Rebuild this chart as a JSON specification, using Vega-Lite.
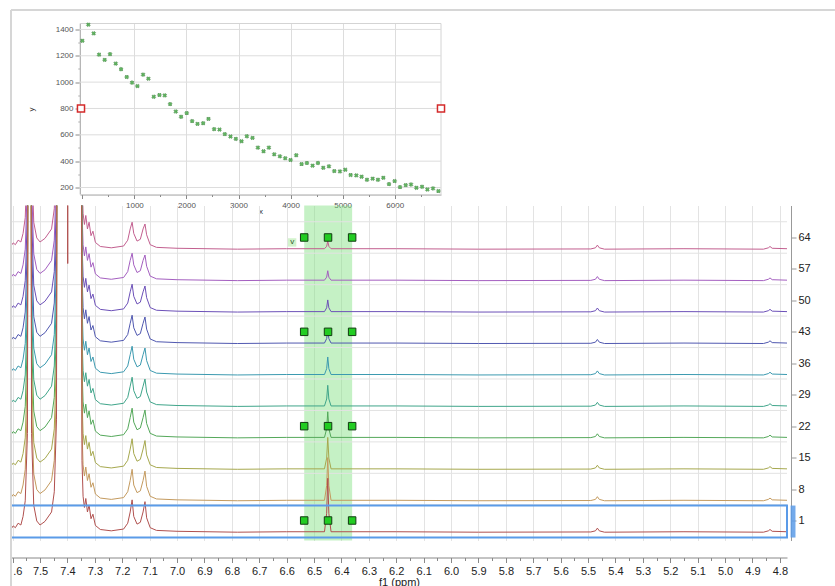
{
"$schema": "https://vega.github.io/schema/vega-lite/v6.json",
"padding": {"left": 10, "top": 8.5, "right": 0, "bottom": 0},
"bounds": "flush",
"spacing": 11,
"config": {"font": "Liberation Sans", "view": {"stroke": null}},
"datasets": {
"spec": [
{"t":64,"p":7.606,"y":62.1},{"t":64,"p":7.598,"y":62.8},{"t":64,"p":7.590,"y":62.4},{"t":64,"p":7.580,"y":63.4},{"t":64,"p":7.570,"y":63.0},{"t":64,"p":7.562,"y":64.9},{"t":64,"p":7.554,"y":68.4},{"t":64,"p":7.546,"y":83.4},{"t":64,"p":7.538,"y":300},{"t":64,"p":7.531,"y":83.4},{"t":64,"p":7.523,"y":67.4},{"t":64,"p":7.512,"y":63.9},{"t":64,"p":7.500,"y":63.0},{"t":64,"p":7.482,"y":63.8},{"t":64,"p":7.458,"y":65.9},{"t":64,"p":7.448,"y":70.4},{"t":64,"p":7.440,"y":86.4},{"t":64,"p":7.432,"y":300},{"t":64,"p":7.352,"y":300},{"t":64,"p":7.347,"y":77.4},{"t":64,"p":7.343,"y":69.4},{"t":64,"p":7.338,"y":66.9},{"t":64,"p":7.333,"y":68.9},{"t":64,"p":7.327,"y":65.9},{"t":64,"p":7.321,"y":67.4},{"t":64,"p":7.314,"y":64.4},{"t":64,"p":7.307,"y":65.4},{"t":64,"p":7.298,"y":62.9},{"t":64,"p":7.280,"y":62.0},{"t":64,"p":7.240,"y":61.7},{"t":64,"p":7.195,"y":62.1},{"t":64,"p":7.180,"y":63.4},{"t":64,"p":7.171,"y":65.9},{"t":64,"p":7.164,"y":67.4},{"t":64,"p":7.158,"y":64.9},{"t":64,"p":7.146,"y":63.2},{"t":64,"p":7.134,"y":63.6},{"t":64,"p":7.124,"y":65.9},{"t":64,"p":7.117,"y":67.0},{"t":64,"p":7.111,"y":64.6},{"t":64,"p":7.098,"y":62.4},{"t":64,"p":7.075,"y":61.8},{"t":64,"p":7.000,"y":61.6},{"t":64,"p":6.780,"y":61.4},{"t":64,"p":6.600,"y":61.5},{"t":64,"p":6.462,"y":61.5},{"t":64,"p":6.454,"y":62.03},{"t":64,"p":6.450,"y":63.2},{"t":64,"p":6.446,"y":62.03},{"t":64,"p":6.438,"y":61.5},{"t":64,"p":6.200,"y":61.5},{"t":64,"p":5.900,"y":61.4},{"t":64,"p":5.490,"y":61.45},{"t":64,"p":5.473,"y":61.7},{"t":64,"p":5.466,"y":62.3},{"t":64,"p":5.459,"y":61.7},{"t":64,"p":5.440,"y":61.4},{"t":64,"p":5.150,"y":61.5},{"t":64,"p":4.860,"y":61.4},{"t":64,"p":4.842,"y":61.7},{"t":64,"p":4.836,"y":62.0},{"t":64,"p":4.828,"y":61.6},{"t":64,"p":4.774,"y":61.5},
{"t":57,"p":7.606,"y":55.1},{"t":57,"p":7.598,"y":55.8},{"t":57,"p":7.590,"y":55.4},{"t":57,"p":7.580,"y":56.4},{"t":57,"p":7.570,"y":56.0},{"t":57,"p":7.562,"y":57.9},{"t":57,"p":7.554,"y":61.4},{"t":57,"p":7.546,"y":76.4},{"t":57,"p":7.538,"y":300},{"t":57,"p":7.531,"y":76.4},{"t":57,"p":7.523,"y":60.4},{"t":57,"p":7.512,"y":56.9},{"t":57,"p":7.500,"y":56.0},{"t":57,"p":7.482,"y":56.8},{"t":57,"p":7.458,"y":58.9},{"t":57,"p":7.448,"y":63.4},{"t":57,"p":7.440,"y":79.4},{"t":57,"p":7.432,"y":300},{"t":57,"p":7.352,"y":300},{"t":57,"p":7.347,"y":70.4},{"t":57,"p":7.343,"y":62.4},{"t":57,"p":7.338,"y":59.9},{"t":57,"p":7.333,"y":61.9},{"t":57,"p":7.327,"y":58.9},{"t":57,"p":7.321,"y":60.4},{"t":57,"p":7.314,"y":57.4},{"t":57,"p":7.307,"y":58.4},{"t":57,"p":7.298,"y":55.9},{"t":57,"p":7.280,"y":55.0},{"t":57,"p":7.240,"y":54.7},{"t":57,"p":7.195,"y":55.1},{"t":57,"p":7.180,"y":56.4},{"t":57,"p":7.171,"y":58.9},{"t":57,"p":7.164,"y":60.5},{"t":57,"p":7.158,"y":57.9},{"t":57,"p":7.146,"y":56.2},{"t":57,"p":7.134,"y":56.6},{"t":57,"p":7.124,"y":58.9},{"t":57,"p":7.117,"y":60.1},{"t":57,"p":7.111,"y":57.6},{"t":57,"p":7.098,"y":55.4},{"t":57,"p":7.075,"y":54.8},{"t":57,"p":7.000,"y":54.6},{"t":57,"p":6.780,"y":54.4},{"t":57,"p":6.600,"y":54.5},{"t":57,"p":6.462,"y":54.5},{"t":57,"p":6.454,"y":55.17},{"t":57,"p":6.450,"y":56.6},{"t":57,"p":6.446,"y":55.17},{"t":57,"p":6.438,"y":54.5},{"t":57,"p":6.200,"y":54.5},{"t":57,"p":5.900,"y":54.4},{"t":57,"p":5.490,"y":54.45},{"t":57,"p":5.473,"y":54.7},{"t":57,"p":5.466,"y":55.3},{"t":57,"p":5.459,"y":54.7},{"t":57,"p":5.440,"y":54.4},{"t":57,"p":5.150,"y":54.5},{"t":57,"p":4.860,"y":54.4},{"t":57,"p":4.842,"y":54.7},{"t":57,"p":4.836,"y":55.0},{"t":57,"p":4.828,"y":54.6},{"t":57,"p":4.774,"y":54.5},
{"t":50,"p":7.606,"y":48.1},{"t":50,"p":7.598,"y":48.8},{"t":50,"p":7.590,"y":48.4},{"t":50,"p":7.580,"y":49.4},{"t":50,"p":7.570,"y":49.0},{"t":50,"p":7.562,"y":50.9},{"t":50,"p":7.554,"y":54.4},{"t":50,"p":7.546,"y":69.4},{"t":50,"p":7.538,"y":300},{"t":50,"p":7.531,"y":69.4},{"t":50,"p":7.523,"y":53.4},{"t":50,"p":7.512,"y":49.9},{"t":50,"p":7.500,"y":49.0},{"t":50,"p":7.482,"y":49.8},{"t":50,"p":7.458,"y":51.9},{"t":50,"p":7.448,"y":56.4},{"t":50,"p":7.440,"y":72.4},{"t":50,"p":7.432,"y":300},{"t":50,"p":7.352,"y":300},{"t":50,"p":7.347,"y":63.4},{"t":50,"p":7.343,"y":55.4},{"t":50,"p":7.338,"y":52.9},{"t":50,"p":7.333,"y":54.9},{"t":50,"p":7.327,"y":51.9},{"t":50,"p":7.321,"y":53.4},{"t":50,"p":7.314,"y":50.4},{"t":50,"p":7.307,"y":51.4},{"t":50,"p":7.298,"y":48.9},{"t":50,"p":7.280,"y":48.0},{"t":50,"p":7.240,"y":47.7},{"t":50,"p":7.195,"y":48.1},{"t":50,"p":7.180,"y":49.4},{"t":50,"p":7.171,"y":51.9},{"t":50,"p":7.164,"y":53.6},{"t":50,"p":7.158,"y":50.9},{"t":50,"p":7.146,"y":49.2},{"t":50,"p":7.134,"y":49.6},{"t":50,"p":7.124,"y":51.9},{"t":50,"p":7.117,"y":53.2},{"t":50,"p":7.111,"y":50.6},{"t":50,"p":7.098,"y":48.4},{"t":50,"p":7.075,"y":47.8},{"t":50,"p":7.000,"y":47.6},{"t":50,"p":6.780,"y":47.4},{"t":50,"p":6.600,"y":47.5},{"t":50,"p":6.462,"y":47.5},{"t":50,"p":6.454,"y":48.35},{"t":50,"p":6.450,"y":50.1},{"t":50,"p":6.446,"y":48.35},{"t":50,"p":6.438,"y":47.5},{"t":50,"p":6.200,"y":47.5},{"t":50,"p":5.900,"y":47.4},{"t":50,"p":5.490,"y":47.45},{"t":50,"p":5.473,"y":47.7},{"t":50,"p":5.466,"y":48.3},{"t":50,"p":5.459,"y":47.7},{"t":50,"p":5.440,"y":47.4},{"t":50,"p":5.150,"y":47.5},{"t":50,"p":4.860,"y":47.4},{"t":50,"p":4.842,"y":47.7},{"t":50,"p":4.836,"y":48.0},{"t":50,"p":4.828,"y":47.6},{"t":50,"p":4.774,"y":47.5},
{"t":43,"p":7.606,"y":41.1},{"t":43,"p":7.598,"y":41.8},{"t":43,"p":7.590,"y":41.4},{"t":43,"p":7.580,"y":42.4},{"t":43,"p":7.570,"y":42.0},{"t":43,"p":7.562,"y":43.9},{"t":43,"p":7.554,"y":47.4},{"t":43,"p":7.546,"y":62.4},{"t":43,"p":7.538,"y":300},{"t":43,"p":7.531,"y":62.4},{"t":43,"p":7.523,"y":46.4},{"t":43,"p":7.512,"y":42.9},{"t":43,"p":7.500,"y":42.0},{"t":43,"p":7.482,"y":42.8},{"t":43,"p":7.458,"y":44.9},{"t":43,"p":7.448,"y":49.4},{"t":43,"p":7.440,"y":65.4},{"t":43,"p":7.432,"y":300},{"t":43,"p":7.352,"y":300},{"t":43,"p":7.347,"y":56.4},{"t":43,"p":7.343,"y":48.4},{"t":43,"p":7.338,"y":45.9},{"t":43,"p":7.333,"y":47.9},{"t":43,"p":7.327,"y":44.9},{"t":43,"p":7.321,"y":46.4},{"t":43,"p":7.314,"y":43.4},{"t":43,"p":7.307,"y":44.4},{"t":43,"p":7.298,"y":41.9},{"t":43,"p":7.280,"y":41.0},{"t":43,"p":7.240,"y":40.7},{"t":43,"p":7.195,"y":41.1},{"t":43,"p":7.180,"y":42.4},{"t":43,"p":7.171,"y":44.9},{"t":43,"p":7.164,"y":46.7},{"t":43,"p":7.158,"y":43.9},{"t":43,"p":7.146,"y":42.2},{"t":43,"p":7.134,"y":42.6},{"t":43,"p":7.124,"y":44.9},{"t":43,"p":7.117,"y":46.3},{"t":43,"p":7.111,"y":43.6},{"t":43,"p":7.098,"y":41.4},{"t":43,"p":7.075,"y":40.8},{"t":43,"p":7.000,"y":40.6},{"t":43,"p":6.780,"y":40.4},{"t":43,"p":6.600,"y":40.5},{"t":43,"p":6.462,"y":40.5},{"t":43,"p":6.454,"y":41.49},{"t":43,"p":6.450,"y":43.5},{"t":43,"p":6.446,"y":41.49},{"t":43,"p":6.438,"y":40.5},{"t":43,"p":6.200,"y":40.5},{"t":43,"p":5.900,"y":40.4},{"t":43,"p":5.490,"y":40.45},{"t":43,"p":5.473,"y":40.7},{"t":43,"p":5.466,"y":41.3},{"t":43,"p":5.459,"y":40.7},{"t":43,"p":5.440,"y":40.4},{"t":43,"p":5.150,"y":40.5},{"t":43,"p":4.860,"y":40.4},{"t":43,"p":4.842,"y":40.7},{"t":43,"p":4.836,"y":41.0},{"t":43,"p":4.828,"y":40.6},{"t":43,"p":4.774,"y":40.5},
{"t":36,"p":7.606,"y":34.1},{"t":36,"p":7.598,"y":34.8},{"t":36,"p":7.590,"y":34.4},{"t":36,"p":7.580,"y":35.4},{"t":36,"p":7.570,"y":35.0},{"t":36,"p":7.562,"y":36.9},{"t":36,"p":7.554,"y":40.4},{"t":36,"p":7.546,"y":55.4},{"t":36,"p":7.538,"y":300},{"t":36,"p":7.531,"y":55.4},{"t":36,"p":7.523,"y":39.4},{"t":36,"p":7.512,"y":35.9},{"t":36,"p":7.500,"y":35.0},{"t":36,"p":7.482,"y":35.8},{"t":36,"p":7.458,"y":37.9},{"t":36,"p":7.448,"y":42.4},{"t":36,"p":7.440,"y":58.4},{"t":36,"p":7.432,"y":300},{"t":36,"p":7.352,"y":300},{"t":36,"p":7.347,"y":49.4},{"t":36,"p":7.343,"y":41.4},{"t":36,"p":7.338,"y":38.9},{"t":36,"p":7.333,"y":40.9},{"t":36,"p":7.327,"y":37.9},{"t":36,"p":7.321,"y":39.4},{"t":36,"p":7.314,"y":36.4},{"t":36,"p":7.307,"y":37.4},{"t":36,"p":7.298,"y":34.9},{"t":36,"p":7.280,"y":34.0},{"t":36,"p":7.240,"y":33.7},{"t":36,"p":7.195,"y":34.1},{"t":36,"p":7.180,"y":35.4},{"t":36,"p":7.171,"y":37.9},{"t":36,"p":7.164,"y":39.8},{"t":36,"p":7.158,"y":36.9},{"t":36,"p":7.146,"y":35.2},{"t":36,"p":7.134,"y":35.6},{"t":36,"p":7.124,"y":37.9},{"t":36,"p":7.117,"y":39.4},{"t":36,"p":7.111,"y":36.6},{"t":36,"p":7.098,"y":34.4},{"t":36,"p":7.075,"y":33.8},{"t":36,"p":7.000,"y":33.6},{"t":36,"p":6.780,"y":33.4},{"t":36,"p":6.600,"y":33.5},{"t":36,"p":6.462,"y":33.5},{"t":36,"p":6.454,"y":34.8},{"t":36,"p":6.450,"y":37.4},{"t":36,"p":6.446,"y":34.8},{"t":36,"p":6.438,"y":33.5},{"t":36,"p":6.200,"y":33.5},{"t":36,"p":5.900,"y":33.4},{"t":36,"p":5.490,"y":33.45},{"t":36,"p":5.473,"y":33.7},{"t":36,"p":5.466,"y":34.3},{"t":36,"p":5.459,"y":33.7},{"t":36,"p":5.440,"y":33.4},{"t":36,"p":5.150,"y":33.5},{"t":36,"p":4.860,"y":33.4},{"t":36,"p":4.842,"y":33.7},{"t":36,"p":4.836,"y":34.0},{"t":36,"p":4.828,"y":33.6},{"t":36,"p":4.774,"y":33.5},
{"t":29,"p":7.606,"y":27.1},{"t":29,"p":7.598,"y":27.8},{"t":29,"p":7.590,"y":27.4},{"t":29,"p":7.580,"y":28.4},{"t":29,"p":7.570,"y":28.0},{"t":29,"p":7.562,"y":29.9},{"t":29,"p":7.554,"y":33.4},{"t":29,"p":7.546,"y":48.4},{"t":29,"p":7.538,"y":300},{"t":29,"p":7.531,"y":48.4},{"t":29,"p":7.523,"y":32.4},{"t":29,"p":7.512,"y":28.9},{"t":29,"p":7.500,"y":28.0},{"t":29,"p":7.482,"y":28.8},{"t":29,"p":7.458,"y":30.9},{"t":29,"p":7.448,"y":35.4},{"t":29,"p":7.440,"y":51.4},{"t":29,"p":7.432,"y":300},{"t":29,"p":7.352,"y":300},{"t":29,"p":7.347,"y":42.4},{"t":29,"p":7.343,"y":34.4},{"t":29,"p":7.338,"y":31.9},{"t":29,"p":7.333,"y":33.9},{"t":29,"p":7.327,"y":30.9},{"t":29,"p":7.321,"y":32.4},{"t":29,"p":7.314,"y":29.4},{"t":29,"p":7.307,"y":30.4},{"t":29,"p":7.298,"y":27.9},{"t":29,"p":7.280,"y":27.0},{"t":29,"p":7.240,"y":26.7},{"t":29,"p":7.195,"y":27.1},{"t":29,"p":7.180,"y":28.4},{"t":29,"p":7.171,"y":30.9},{"t":29,"p":7.164,"y":32.9},{"t":29,"p":7.158,"y":29.9},{"t":29,"p":7.146,"y":28.2},{"t":29,"p":7.134,"y":28.6},{"t":29,"p":7.124,"y":30.9},{"t":29,"p":7.117,"y":32.5},{"t":29,"p":7.111,"y":29.6},{"t":29,"p":7.098,"y":27.4},{"t":29,"p":7.075,"y":26.8},{"t":29,"p":7.000,"y":26.6},{"t":29,"p":6.780,"y":26.4},{"t":29,"p":6.600,"y":26.5},{"t":29,"p":6.462,"y":26.5},{"t":29,"p":6.454,"y":28.05},{"t":29,"p":6.450,"y":31.1},{"t":29,"p":6.446,"y":28.05},{"t":29,"p":6.438,"y":26.5},{"t":29,"p":6.200,"y":26.5},{"t":29,"p":5.900,"y":26.4},{"t":29,"p":5.490,"y":26.45},{"t":29,"p":5.473,"y":26.7},{"t":29,"p":5.466,"y":27.3},{"t":29,"p":5.459,"y":26.7},{"t":29,"p":5.440,"y":26.4},{"t":29,"p":5.150,"y":26.5},{"t":29,"p":4.860,"y":26.4},{"t":29,"p":4.842,"y":26.7},{"t":29,"p":4.836,"y":27.0},{"t":29,"p":4.828,"y":26.6},{"t":29,"p":4.774,"y":26.5},
{"t":22,"p":7.606,"y":20.1},{"t":22,"p":7.598,"y":20.8},{"t":22,"p":7.590,"y":20.4},{"t":22,"p":7.580,"y":21.4},{"t":22,"p":7.570,"y":21.0},{"t":22,"p":7.562,"y":22.9},{"t":22,"p":7.554,"y":26.4},{"t":22,"p":7.546,"y":41.4},{"t":22,"p":7.538,"y":300},{"t":22,"p":7.531,"y":41.4},{"t":22,"p":7.523,"y":25.4},{"t":22,"p":7.512,"y":21.9},{"t":22,"p":7.500,"y":21.0},{"t":22,"p":7.482,"y":21.8},{"t":22,"p":7.458,"y":23.9},{"t":22,"p":7.448,"y":28.4},{"t":22,"p":7.440,"y":44.4},{"t":22,"p":7.432,"y":300},{"t":22,"p":7.352,"y":300},{"t":22,"p":7.347,"y":35.4},{"t":22,"p":7.343,"y":27.4},{"t":22,"p":7.338,"y":24.9},{"t":22,"p":7.333,"y":26.9},{"t":22,"p":7.327,"y":23.9},{"t":22,"p":7.321,"y":25.4},{"t":22,"p":7.314,"y":22.4},{"t":22,"p":7.307,"y":23.4},{"t":22,"p":7.298,"y":20.9},{"t":22,"p":7.280,"y":20.0},{"t":22,"p":7.240,"y":19.7},{"t":22,"p":7.195,"y":20.1},{"t":22,"p":7.180,"y":21.4},{"t":22,"p":7.171,"y":23.9},{"t":22,"p":7.164,"y":26.0},{"t":22,"p":7.158,"y":22.9},{"t":22,"p":7.146,"y":21.2},{"t":22,"p":7.134,"y":21.6},{"t":22,"p":7.124,"y":23.9},{"t":22,"p":7.117,"y":25.6},{"t":22,"p":7.111,"y":22.6},{"t":22,"p":7.098,"y":20.4},{"t":22,"p":7.075,"y":19.8},{"t":22,"p":7.000,"y":19.6},{"t":22,"p":6.780,"y":19.4},{"t":22,"p":6.600,"y":19.5},{"t":22,"p":6.462,"y":19.5},{"t":22,"p":6.454,"y":21.43},{"t":22,"p":6.450,"y":25.2},{"t":22,"p":6.446,"y":21.43},{"t":22,"p":6.438,"y":19.5},{"t":22,"p":6.200,"y":19.5},{"t":22,"p":5.900,"y":19.4},{"t":22,"p":5.490,"y":19.45},{"t":22,"p":5.473,"y":19.7},{"t":22,"p":5.466,"y":20.3},{"t":22,"p":5.459,"y":19.7},{"t":22,"p":5.440,"y":19.4},{"t":22,"p":5.150,"y":19.5},{"t":22,"p":4.860,"y":19.4},{"t":22,"p":4.842,"y":19.7},{"t":22,"p":4.836,"y":20.0},{"t":22,"p":4.828,"y":19.6},{"t":22,"p":4.774,"y":19.5},
{"t":15,"p":7.606,"y":13.1},{"t":15,"p":7.598,"y":13.8},{"t":15,"p":7.590,"y":13.4},{"t":15,"p":7.580,"y":14.4},{"t":15,"p":7.570,"y":14.0},{"t":15,"p":7.562,"y":15.9},{"t":15,"p":7.554,"y":19.4},{"t":15,"p":7.546,"y":34.4},{"t":15,"p":7.538,"y":300},{"t":15,"p":7.531,"y":34.4},{"t":15,"p":7.523,"y":18.4},{"t":15,"p":7.512,"y":14.9},{"t":15,"p":7.500,"y":14.0},{"t":15,"p":7.482,"y":14.8},{"t":15,"p":7.458,"y":16.9},{"t":15,"p":7.448,"y":21.4},{"t":15,"p":7.440,"y":37.4},{"t":15,"p":7.432,"y":300},{"t":15,"p":7.352,"y":300},{"t":15,"p":7.347,"y":28.4},{"t":15,"p":7.343,"y":20.4},{"t":15,"p":7.338,"y":17.9},{"t":15,"p":7.333,"y":19.9},{"t":15,"p":7.327,"y":16.9},{"t":15,"p":7.321,"y":18.4},{"t":15,"p":7.314,"y":15.4},{"t":15,"p":7.307,"y":16.4},{"t":15,"p":7.298,"y":13.9},{"t":15,"p":7.280,"y":13.0},{"t":15,"p":7.240,"y":12.7},{"t":15,"p":7.195,"y":13.1},{"t":15,"p":7.180,"y":14.4},{"t":15,"p":7.171,"y":16.9},{"t":15,"p":7.164,"y":19.2},{"t":15,"p":7.158,"y":15.9},{"t":15,"p":7.146,"y":14.2},{"t":15,"p":7.134,"y":14.6},{"t":15,"p":7.124,"y":16.9},{"t":15,"p":7.117,"y":18.8},{"t":15,"p":7.111,"y":15.6},{"t":15,"p":7.098,"y":13.4},{"t":15,"p":7.075,"y":12.8},{"t":15,"p":7.000,"y":12.6},{"t":15,"p":6.780,"y":12.4},{"t":15,"p":6.600,"y":12.5},{"t":15,"p":6.462,"y":12.5},{"t":15,"p":6.454,"y":14.89},{"t":15,"p":6.450,"y":19.5},{"t":15,"p":6.446,"y":14.89},{"t":15,"p":6.438,"y":12.5},{"t":15,"p":6.200,"y":12.5},{"t":15,"p":5.900,"y":12.4},{"t":15,"p":5.490,"y":12.45},{"t":15,"p":5.473,"y":12.7},{"t":15,"p":5.466,"y":13.3},{"t":15,"p":5.459,"y":12.7},{"t":15,"p":5.440,"y":12.4},{"t":15,"p":5.150,"y":12.5},{"t":15,"p":4.860,"y":12.4},{"t":15,"p":4.842,"y":12.7},{"t":15,"p":4.836,"y":13.0},{"t":15,"p":4.828,"y":12.6},{"t":15,"p":4.774,"y":12.5},
{"t":8,"p":7.606,"y":6.1},{"t":8,"p":7.598,"y":6.8},{"t":8,"p":7.590,"y":6.4},{"t":8,"p":7.580,"y":7.4},{"t":8,"p":7.570,"y":7.0},{"t":8,"p":7.562,"y":8.9},{"t":8,"p":7.554,"y":12.4},{"t":8,"p":7.546,"y":27.4},{"t":8,"p":7.538,"y":300},{"t":8,"p":7.531,"y":27.4},{"t":8,"p":7.523,"y":11.4},{"t":8,"p":7.512,"y":7.9},{"t":8,"p":7.500,"y":7.0},{"t":8,"p":7.482,"y":7.8},{"t":8,"p":7.458,"y":9.9},{"t":8,"p":7.448,"y":14.4},{"t":8,"p":7.440,"y":30.4},{"t":8,"p":7.432,"y":300},{"t":8,"p":7.352,"y":300},{"t":8,"p":7.347,"y":21.4},{"t":8,"p":7.343,"y":13.4},{"t":8,"p":7.338,"y":10.9},{"t":8,"p":7.333,"y":12.9},{"t":8,"p":7.327,"y":9.9},{"t":8,"p":7.321,"y":11.4},{"t":8,"p":7.314,"y":8.4},{"t":8,"p":7.307,"y":9.4},{"t":8,"p":7.298,"y":6.9},{"t":8,"p":7.280,"y":6.0},{"t":8,"p":7.240,"y":5.7},{"t":8,"p":7.195,"y":6.1},{"t":8,"p":7.180,"y":7.4},{"t":8,"p":7.171,"y":9.9},{"t":8,"p":7.164,"y":12.4},{"t":8,"p":7.158,"y":8.9},{"t":8,"p":7.146,"y":7.2},{"t":8,"p":7.134,"y":7.6},{"t":8,"p":7.124,"y":9.9},{"t":8,"p":7.117,"y":12.0},{"t":8,"p":7.111,"y":8.6},{"t":8,"p":7.098,"y":6.4},{"t":8,"p":7.075,"y":5.8},{"t":8,"p":7.000,"y":5.6},{"t":8,"p":6.780,"y":5.4},{"t":8,"p":6.600,"y":5.5},{"t":8,"p":6.462,"y":5.5},{"t":8,"p":6.454,"y":8.76},{"t":8,"p":6.450,"y":15.0},{"t":8,"p":6.446,"y":8.76},{"t":8,"p":6.438,"y":5.5},{"t":8,"p":6.200,"y":5.5},{"t":8,"p":5.900,"y":5.4},{"t":8,"p":5.490,"y":5.45},{"t":8,"p":5.473,"y":5.7},{"t":8,"p":5.466,"y":6.3},{"t":8,"p":5.459,"y":5.7},{"t":8,"p":5.440,"y":5.4},{"t":8,"p":5.150,"y":5.5},{"t":8,"p":4.860,"y":5.4},{"t":8,"p":4.842,"y":5.7},{"t":8,"p":4.836,"y":6.0},{"t":8,"p":4.828,"y":5.6},{"t":8,"p":4.774,"y":5.5},
{"t":1,"p":7.606,"y":-0.9},{"t":1,"p":7.598,"y":-0.2},{"t":1,"p":7.590,"y":-0.6},{"t":1,"p":7.580,"y":0.4},{"t":1,"p":7.570,"y":0.0},{"t":1,"p":7.562,"y":1.9},{"t":1,"p":7.554,"y":5.4},{"t":1,"p":7.546,"y":20.4},{"t":1,"p":7.538,"y":300},{"t":1,"p":7.531,"y":20.4},{"t":1,"p":7.523,"y":4.4},{"t":1,"p":7.512,"y":0.9},{"t":1,"p":7.500,"y":0.0},{"t":1,"p":7.482,"y":0.8},{"t":1,"p":7.458,"y":2.9},{"t":1,"p":7.448,"y":7.4},{"t":1,"p":7.440,"y":23.4},{"t":1,"p":7.432,"y":300},{"t":1,"p":7.403,"y":300},{"t":1,"p":7.399,"y":58.2},{"t":1,"p":7.395,"y":300},{"t":1,"p":7.352,"y":300},{"t":1,"p":7.347,"y":14.4},{"t":1,"p":7.343,"y":6.4},{"t":1,"p":7.338,"y":3.9},{"t":1,"p":7.333,"y":5.9},{"t":1,"p":7.327,"y":2.9},{"t":1,"p":7.321,"y":4.4},{"t":1,"p":7.314,"y":1.4},{"t":1,"p":7.307,"y":2.4},{"t":1,"p":7.298,"y":-0.1},{"t":1,"p":7.280,"y":-1.0},{"t":1,"p":7.240,"y":-1.3},{"t":1,"p":7.195,"y":-0.9},{"t":1,"p":7.180,"y":0.4},{"t":1,"p":7.171,"y":2.9},{"t":1,"p":7.164,"y":5.6},{"t":1,"p":7.158,"y":1.9},{"t":1,"p":7.146,"y":0.2},{"t":1,"p":7.134,"y":0.6},{"t":1,"p":7.124,"y":2.9},{"t":1,"p":7.117,"y":5.2},{"t":1,"p":7.111,"y":1.6},{"t":1,"p":7.098,"y":-0.6},{"t":1,"p":7.075,"y":-1.2},{"t":1,"p":7.000,"y":-1.4},{"t":1,"p":6.780,"y":-1.6},{"t":1,"p":6.600,"y":-1.5},{"t":1,"p":6.462,"y":-1.5},{"t":1,"p":6.454,"y":2.6},{"t":1,"p":6.450,"y":10.4},{"t":1,"p":6.446,"y":2.6},{"t":1,"p":6.438,"y":-1.5},{"t":1,"p":6.200,"y":-1.5},{"t":1,"p":5.900,"y":-1.6},{"t":1,"p":5.490,"y":-1.55},{"t":1,"p":5.473,"y":-1.3},{"t":1,"p":5.466,"y":-0.7},{"t":1,"p":5.459,"y":-1.3},{"t":1,"p":5.440,"y":-1.6},{"t":1,"p":5.150,"y":-1.5},{"t":1,"p":4.860,"y":-1.6},{"t":1,"p":4.842,"y":-1.3},{"t":1,"p":4.836,"y":-1.0},{"t":1,"p":4.828,"y":-1.4},{"t":1,"p":4.774,"y":-1.5}
],
"inset": [
{"x":0,"y":1314},{"x":115,"y":1436},{"x":218,"y":1370},{"x":321,"y":1209},{"x":429,"y":1169},{"x":532,"y":1212},{"x":641,"y":1141},{"x":744,"y":1098},{"x":853,"y":1039},{"x":955,"y":996},{"x":1058,"y":970},{"x":1167,"y":1057},{"x":1269,"y":1026},{"x":1372,"y":889},{"x":1481,"y":902},{"x":1583,"y":899},{"x":1686,"y":833},{"x":1795,"y":777},{"x":1897,"y":737},{"x":2006,"y":765},{"x":2109,"y":704},{"x":2212,"y":683},{"x":2321,"y":688},{"x":2423,"y":721},{"x":2532,"y":643},{"x":2635,"y":640},{"x":2737,"y":605},{"x":2846,"y":587},{"x":2949,"y":569},{"x":3058,"y":551},{"x":3160,"y":589},{"x":3269,"y":577},{"x":3372,"y":503},{"x":3481,"y":475},{"x":3583,"y":503},{"x":3686,"y":452},{"x":3795,"y":437},{"x":3897,"y":422},{"x":4000,"y":409},{"x":4109,"y":445},{"x":4212,"y":378},{"x":4314,"y":386},{"x":4423,"y":366},{"x":4526,"y":386},{"x":4628,"y":350},{"x":4737,"y":361},{"x":4840,"y":325},{"x":4949,"y":322},{"x":5051,"y":335},{"x":5154,"y":295},{"x":5263,"y":292},{"x":5365,"y":282},{"x":5468,"y":259},{"x":5577,"y":267},{"x":5679,"y":259},{"x":5782,"y":274},{"x":5891,"y":226},{"x":6000,"y":249},{"x":6103,"y":203},{"x":6212,"y":218},{"x":6314,"y":223},{"x":6417,"y":198},{"x":6526,"y":206},{"x":6628,"y":185},{"x":6737,"y":193},{"x":6840,"y":173}
]
},
"vconcat": [
{
"width": 776, "height": 171,
"layer": [
{
"data": {"values": [{"x": -45, "x2": 6890, "y": 147, "y2": 1445}]},
"mark": {"type": "rect", "fillOpacity": 0, "stroke": "#d4d4d4", "strokeWidth": 1},
"encoding": {
"x": {"field": "x", "type": "quantitative", "scale": {"domain": [-45, 6890], "range": [69, 430], "nice": false, "zero": false}},
"x2": {"field": "x2"},
"y": {"field": "y", "type": "quantitative", "scale": {"domain": [147, 1445], "nice": false, "zero": false}},
"y2": {"field": "y2"}
}
},
{
"data": {"values": [{"x": -45, "x2": 6890, "y": 200}, {"x": -45, "x2": 6890, "y": 400}, {"x": -45, "x2": 6890, "y": 600}, {"x": -45, "x2": 6890, "y": 800}, {"x": -45, "x2": 6890, "y": 1000}, {"x": -45, "x2": 6890, "y": 1200}, {"x": -45, "x2": 6890, "y": 1400}]},
"mark": {"type": "rule", "color": "#dddddd", "strokeWidth": 1},
"encoding": {
"x": {"field": "x", "type": "quantitative", "scale": {"domain": [-45, 6890], "range": [69, 430], "nice": false, "zero": false}},
"x2": {"field": "x2"},
"y": {"field": "y", "type": "quantitative", "scale": {"domain": [147, 1445], "nice": false, "zero": false}}
}
},
{
"data": {"name": "inset"},
"mark": {"type": "point", "shape": "cross", "angle": 45, "filled": true, "size": 15, "fill": "#63b863", "stroke": "#2a6a2a", "strokeWidth": 0.4, "opacity": 1},
"encoding": {
"x": {"field": "x", "type": "quantitative", "scale": {"domain": [-45, 6890], "range": [69, 430], "nice": false, "zero": false},
"axis": {"values": [0,500,1000,1500,2000,2500,3000,3500,4000,4500,5000,5500,6000,6500], "tickCount": 200, "labelOverlap": false, "labelExpr": "datum.value % 1000 == 0 && datum.value > 0 ? format(datum.value, 'd') : ''", "gridOpacity": {"condition": {"test": "datum.value % 1000 == 0 && datum.value > 0", "value": 1}, "value": 0}, "tickSize": {"condition": {"test": "datum.value % 1000 == 0", "value": 4}, "value": 2}, "grid": true, "gridColor": "#dddddd", "domainColor": "#999999", "tickColor": "#888888", "labelFontSize": 8, "labelColor": "#555555", "labelPadding": 3, "title": "x", "titleFontSize": 8, "titleFontWeight": "normal", "titleColor": "#333333", "titlePadding": -2}},
"y": {"field": "y", "type": "quantitative", "scale": {"domain": [147, 1445], "nice": false, "zero": false},
"axis": {"offset": -69, "values": [200,300,400,500,600,700,800,900,1000,1100,1200,1300,1400], "tickCount": 200, "labelOverlap": false, "labelExpr": "datum.value % 200 == 0 ? format(datum.value, 'd') : ''", "tickSize": {"condition": {"test": "datum.value % 200 == 0", "value": 5}, "value": 2}, "grid": false, "domainColor": "#999999", "tickColor": "#888888", "labelFontSize": 8, "labelColor": "#555555", "labelPadding": 2, "title": "y", "titleFontSize": 8, "titleFontWeight": "normal", "titleColor": "#333333", "titlePadding": 20}}
}
},
{
"data": {"values": [{"x": -26, "y": 800}, {"x": 6890, "y": 800}]},
"mark": {"type": "point", "shape": "square", "size": 50, "filled": true, "fill": "white", "stroke": "#d42a2a", "strokeWidth": 1.5, "opacity": 1},
"encoding": {
"x": {"field": "x", "type": "quantitative", "scale": {"domain": [-45, 6890], "range": [69, 430], "nice": false, "zero": false}},
"y": {"field": "y", "type": "quantitative", "scale": {"domain": [147, 1445], "nice": false, "zero": false}}
}
}
]
},
{
"width": 776, "height": 335,
"layer": [
{
"data": {"values": [{"a": 6.536, "b": 6.361}]},
"mark": {"type": "rect", "color": "#7fe07f", "opacity": 0.45},
"encoding": {
"x": {"field": "a", "type": "quantitative", "scale": {"domain": [4.774, 7.606], "reverse": true, "nice": false, "zero": false}},
"x2": {"field": "b"}
}
},
{
"data": {"values": [{"s": 4.5}, {"s": 11.5}, {"s": 18.5}, {"s": 25.5}, {"s": 32.5}, {"s": 39.5}, {"s": 46.5}, {"s": 53.5}, {"s": 60.5}, {"s": 67.5}]},
"mark": {"type": "rule", "color": "#e2e2e2", "strokeWidth": 1},
"encoding": {
"y": {"field": "s", "type": "quantitative", "scale": {"domain": [-3.45, 71.12], "nice": false, "zero": false}}
}
},
{
"data": {"name": "spec"},
"mark": {"type": "line", "clip": true, "strokeWidth": 1, "interpolate": "linear"},
"encoding": {
"x": {"field": "p", "type": "quantitative", "scale": {"domain": [4.774, 7.606], "reverse": true, "nice": false, "zero": false},
"axis": {"orient": "bottom", "offset": 17, "tickCount": 200, "values": [7.6,7.55,7.5,7.45,7.4,7.35,7.3,7.25,7.2,7.15,7.1,7.05,7.0,6.95,6.9,6.85,6.8,6.75,6.7,6.65,6.6,6.55,6.5,6.45,6.4,6.35,6.3,6.25,6.2,6.15,6.1,6.05,6.0,5.95,5.9,5.85,5.8,5.75,5.7,5.65,5.6,5.55,5.5,5.45,5.4,5.35,5.3,5.25,5.2,5.15,5.1,5.05,5.0,4.95,4.9,4.85,4.8],
"labelExpr": "abs(datum.value*10 - round(datum.value*10)) > 0.01 ? '' : (abs(datum.value - 7.6) < 0.001 ? '.6' : format(datum.value, '.1f'))",
"labelAlign": {"condition": {"test": "abs(datum.value - 7.6) < 0.001", "value": "left"}, "value": "center"},
"tickSize": {"condition": {"test": "abs(datum.value*10 - round(datum.value*10)) > 0.01", "value": 3}, "value": 5},
"gridOpacity": {"condition": {"test": "abs(datum.value*10 - round(datum.value*10)) > 0.01", "value": 0}, "value": 1},
"grid": true, "gridColor": "#e3e3e3", "domainColor": "#888888", "tickColor": "#888888", "labelFontSize": 11, "labelColor": "#222222", "labelPadding": 3, "labelOverlap": false, "labelBound": false, "labelFlush": false,
"title": "f1 (ppm)", "titleFontSize": 11, "titleFontWeight": "normal", "titleColor": "#222222", "titlePadding": 0}},
"y": {"field": "y", "type": "quantitative", "scale": {"domain": [-3.45, 71.12], "nice": false, "zero": false},
"axis": {"orient": "right", "values": [1,8,15,22,29,36,43,50,57,64], "format": "d", "tickCount": 200, "labelOverlap": false, "offset": 4, "grid": false, "title": null, "domainColor": "#999999", "tickColor": "#999999", "tickSize": 5, "labelFontSize": 11, "labelColor": "#222222", "labelPadding": 2}},
"color": {"field": "t", "type": "ordinal", "scale": {"domain": [1,8,15,22,29,36,43,50,57,64], "range": ["#b0504e","#c49a5e","#a6a84e","#54a85a","#3fa58a","#3c9ab0","#5058b0","#6c50b8","#a45fc0","#c25f8f"]}, "legend": null}
}
},
{
"data": {"values": [{"a": 7.606, "b": 4.774, "c": 4.33, "d": -2.79}]},
"mark": {"type": "rect", "fillOpacity": 0, "stroke": "#5b9be8", "strokeWidth": 2, "clip": false},
"encoding": {
"x": {"field": "a", "type": "quantitative", "scale": {"domain": [4.774, 7.606], "reverse": true, "nice": false, "zero": false}},
"x2": {"field": "b"},
"y": {"field": "c", "type": "quantitative", "scale": {"domain": [-3.45, 71.12], "nice": false, "zero": false}},
"y2": {"field": "d"}
}
},
{
"data": {"values": [{"a": 4.761, "b": 4.743, "c": 4.33, "d": -2.79}]},
"mark": {"type": "rect", "color": "#5b9be8", "opacity": 0.85, "clip": false},
"encoding": {
"x": {"field": "a", "type": "quantitative", "scale": {"domain": [4.774, 7.606], "reverse": true, "nice": false, "zero": false}},
"x2": {"field": "b"},
"y": {"field": "c", "type": "quantitative", "scale": {"domain": [-3.45, 71.12], "nice": false, "zero": false}},
"y2": {"field": "d"}
}
},
{
"data": {"values": [{"a": 7.606, "b": 4.599, "c": 114.64, "d": 114.64}, {"a": 7.606, "b": 7.606, "c": 114.64, "d": -13.69}]},
"mark": {"type": "rule", "color": "#d6d6d6", "strokeWidth": 2, "clip": false},
"encoding": {
"x": {"field": "a", "type": "quantitative", "scale": {"domain": [4.774, 7.606], "reverse": true, "nice": false, "zero": false}},
"x2": {"field": "b"},
"y": {"field": "c", "type": "quantitative", "scale": {"domain": [-3.45, 71.12], "nice": false, "zero": false}},
"y2": {"field": "d"}
}
},
{
"data": {"values": [{"p": 6.580, "y": 62.9}]},
"mark": {"type": "square", "size": 70, "color": "#d2f3cc", "opacity": 1},
"encoding": {
"x": {"field": "p", "type": "quantitative", "scale": {"domain": [4.774, 7.606], "reverse": true, "nice": false, "zero": false}},
"y": {"field": "y", "type": "quantitative", "scale": {"domain": [-3.45, 71.12], "nice": false, "zero": false}}
}
},
{
"data": {"values": [{"p": 6.580, "y": 62.9, "s": "v"}]},
"mark": {"type": "text", "fontSize": 8, "color": "#2c5a2c", "baseline": "middle"},
"encoding": {
"x": {"field": "p", "type": "quantitative", "scale": {"domain": [4.774, 7.606], "reverse": true, "nice": false, "zero": false}},
"y": {"field": "y", "type": "quantitative", "scale": {"domain": [-3.45, 71.12], "nice": false, "zero": false}},
"text": {"field": "s"}
}
},
{
"data": {"values": [{"p": 6.536, "y": 64}, {"p": 6.449, "y": 64}, {"p": 6.361, "y": 64}, {"p": 6.536, "y": 43}, {"p": 6.449, "y": 43}, {"p": 6.361, "y": 43}, {"p": 6.536, "y": 22}, {"p": 6.449, "y": 22}, {"p": 6.361, "y": 22}, {"p": 6.536, "y": 1}, {"p": 6.449, "y": 1}, {"p": 6.361, "y": 1}]},
"mark": {"type": "square", "size": 56, "fill": "#22cc22", "stroke": "#123d12", "strokeWidth": 1, "opacity": 1, "filled": true},
"encoding": {
"x": {"field": "p", "type": "quantitative", "scale": {"domain": [4.774, 7.606], "reverse": true, "nice": false, "zero": false}},
"y": {"field": "y", "type": "quantitative", "scale": {"domain": [-3.45, 71.12], "nice": false, "zero": false}}
}
}
]
}
]
}
